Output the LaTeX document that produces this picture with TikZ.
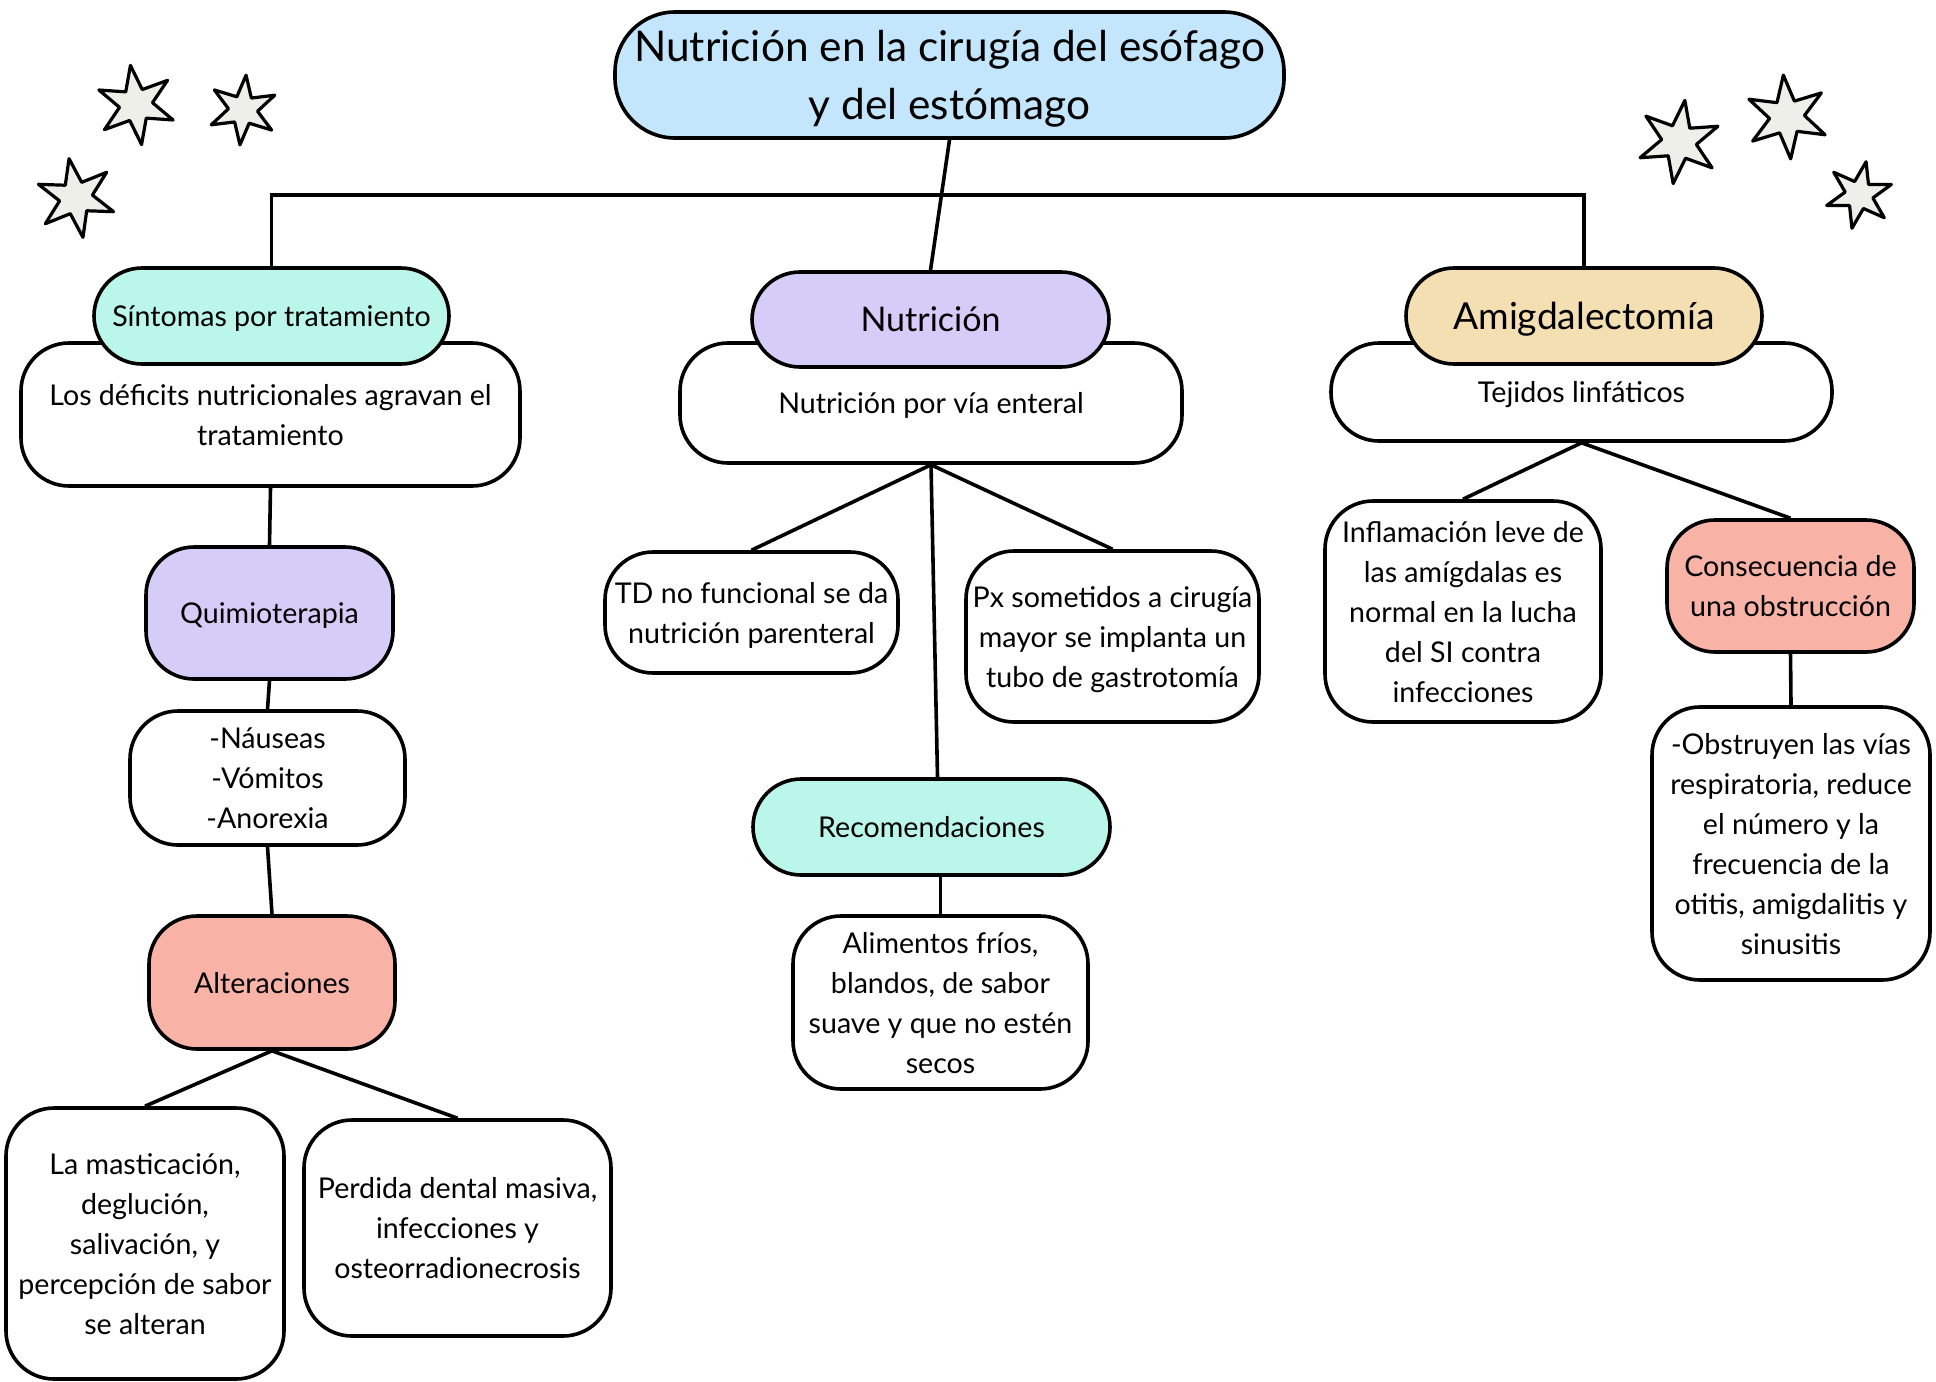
\documentclass[tikz,border=0pt]{standalone}
\usepackage{fontspec}
\setmainfont{Lato}
\usetikzlibrary{shapes.geometric}
\definecolor{cblue}{HTML}{C3E6FC}
\definecolor{cmint}{HTML}{BAF6EA}
\definecolor{clav}{HTML}{D5CDF7}
\definecolor{csal}{HTML}{F8B3A6}
\definecolor{ctan}{HTML}{F4DFB3}
\definecolor{cstar}{HTML}{EEEFE8}
\newcommand\bx[7]{%
  \pgfmathsetmacro\cx{(#2+#4)/2}\pgfmathsetmacro\cy{(#3+#5)/2}%
  \pgfmathsetmacro\ww{(#4-#2)/2}\pgfmathsetmacro\hh{(#5-#3)/2}%
  \node[#6, minimum width=\ww pt, minimum height=\hh pt] (#1) at (\cx,\cy) {#7};}
\tikzset{
  box/.style={draw=black, line width=1.8pt, fill=white, rounded corners=24pt,
    align=center, inner sep=1pt, text depth=0pt, font=\fontsize{14.3}{20}\selectfont},
  conn/.style={line width=1.8pt},
  starnode/.style={star, star points=6, star point ratio=2.4, draw=black,
    line width=1.6pt, fill=cstar, inner sep=0pt, line join=round}
}
\begin{document}
\begin{tikzpicture}[x=0.5pt,y=-0.5pt]
\useasboundingbox (0,0) rectangle (1936,1381);
% stars
\node[starnode, minimum size=40pt, rotate=8] (s1) at (136,105) {};
\node[starnode, minimum size=35pt, rotate=-5] (s2) at (243,110) {};
\node[starnode, minimum size=40pt, rotate=10] (s3) at (76,198) {};
\node[starnode, minimum size=42pt, rotate=-8] (s4) at (1679,142) {};
\node[starnode, minimum size=42pt, rotate=5] (s5) at (1787,117) {};
\node[starnode, minimum size=34pt, rotate=-12] (s6) at (1859,195) {};
% white boxes
\bx{def}{21}{343}{520}{486}{box}{Los déficits nutricionales agravan el\\tratamiento}
\bx{ent}{680}{343}{1182}{463}{box}{Nutrición por vía enteral}
\bx{tej}{1331}{343}{1832}{441}{box}{Tejidos linfáticos}
\bx{naus}{130}{711}{405}{845}{box}{-Náuseas\\-Vómitos\\-Anorexia}
\bx{mast}{6}{1108}{284}{1379}{box}{La masticación,\\deglución,\\salivación, y\\percepción de sabor\\se alteran}
\bx{perd}{304}{1120}{611}{1336}{box}{Perdida dental masiva,\\infecciones y\\osteorradionecrosis}
\bx{td}{605}{552}{898}{673}{box}{TD no funcional se da\\nutrición parenteral}
\bx{px}{966}{551}{1259}{722}{box}{Px sometidos a cirugía\\mayor se implanta un\\tubo de gastrotomía}
\bx{alim}{793}{916}{1088}{1089}{box}{Alimentos fríos,\\blandos, de sabor\\suave y que no estén\\secos}
\bx{infl}{1325}{501}{1601}{722}{box}{Inflamación leve de\\las amígdalas es\\normal en la lucha\\del SI contra\\infecciones}
\bx{obs}{1652}{707}{1930}{980}{box}{-Obstruyen las vías\\respiratoria, reduce\\el número y la\\frecuencia de la\\otitis, amigdalitis y\\sinusitis}
% coloured boxes
\bx{title}{615}{12}{1284}{138}{box, fill=cblue, rounded corners=30pt, font=\fontsize{21.2}{29}\selectfont}{Nutrición en la cirugía del esófago\\y del estómago}
\bx{sint}{94}{268}{449}{364}{box, fill=cmint}{Síntomas por tratamiento}
\bx{nut}{752}{272}{1109}{367}{box, fill=clav, font=\fontsize{17}{22}\selectfont}{Nutrición}
\bx{amig}{1406}{268}{1762}{364}{box, fill=ctan, font=\fontsize{18.6}{22}\selectfont}{Amigdalectomía}
\bx{quim}{146}{547}{393}{679}{box, fill=clav}{Quimioterapia}
\bx{alt}{149}{916}{395}{1049}{box, fill=csal}{Alteraciones}
\bx{rec}{753}{779}{1110}{875}{box, fill=cmint}{Recomendaciones}
\bx{cons}{1667}{520}{1914}{652}{box, fill=csal}{Consecuencia de\\una obstrucción}
% connectors
\coordinate (hl) at (0,195);
\draw[conn] (sint.north) -- (sint.north |- hl) -- (amig.north |- hl) -- (amig.north);
\draw[conn] (title.south) -- (nut.north);
\draw[conn] (def.south) -- (quim.north);
\draw[conn] (quim.south) -- (naus.north);
\draw[conn] (naus.south) -- (alt.north);
\draw[conn] (alt.south) -- (mast.north);
\draw[conn] (alt.south) -- (perd.north);
\draw[conn] (ent.south) -- (td.north);
\draw[conn] (ent.south) -- (px.north);
\draw[conn] (ent.south) -- ([xshift=3pt]rec.north);
\draw[conn] (rec.south -| alim.north) -- (alim.north);
\draw[conn] (tej.south) -- (infl.north);
\draw[conn] (tej.south) -- (cons.north);
\draw[conn] (cons.south) -- (obs.north);
\end{tikzpicture}
\end{document}
